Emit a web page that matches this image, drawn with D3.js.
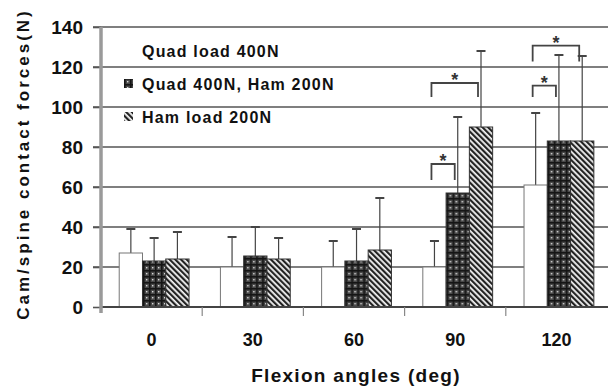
<!DOCTYPE html>
<html>
<head>
<meta charset="utf-8">
<script src="https://cdn.jsdelivr.net/npm/d3@7/dist/d3.min.js"></script>
<style>
  html, body { margin: 0; padding: 0; background: #fff; }
  svg { display: block; font-family: "Liberation Sans", Arial, sans-serif; font-weight: bold; }
</style>
</head>
<body>
<div id="chart"></div>
<script>
// flexion angles (deg)
const categories = ['0', '30', '60', '90', '120'];
const seriesNames = ['Quad load 400N', 'Quad 400N, Ham 200N', 'Ham load 200N'];

// mean cam/spine contact force (N) and SD per loading case
const quadMeans = [27, 20, 20, 20, 61];
const quadSD = [12, 15, 13, 13, 36];
const quadHamMeans = [23, 25.5, 23, 57, 83];
const quadHamSD = [11.5, 14.5, 16, 38, 43];
const hamMeans = [24, 24, 28.5, 90, 83];
const hamSD = [13.5, 10.5, 26, 38, 42.5];

const yTicks = [0, 20, 40, 60, 80, 100, 120, 140];

// significance brackets: category, series pair, bracket top and leg end (N)
const sigCats = ['90', '90', '120', '120'];
const sigFrom = [0, 0, 0, 0];
const sigTo = [1, 2, 1, 2];
const sigTop = [71.5, 112, 110.7, 130.7];
const sigBottom = [63.5, 105, 105, 122.7];

const W = 608, H = 388;
const mLeft = 101, mRight = 607, mTop = 27, mBottom = 307;

const svg = d3.select('#chart').append('svg')
  .attr('width', W).attr('height', H);

const defs = svg.append('defs');

// grid/check fill for combined load
const pGrid = defs.append('pattern')
  .attr('id', 'pGrid').attr('patternUnits', 'userSpaceOnUse')
  .attr('width', 6).attr('height', 6);
pGrid.append('rect').attr('width', 6).attr('height', 6).attr('fill', '#4a4a4a');
pGrid.append('rect').attr('width', 6).attr('height', 1.6).attr('fill', '#151515');
pGrid.append('rect').attr('width', 1.6).attr('height', 6).attr('fill', '#151515');
pGrid.append('rect').attr('x', 3).attr('y', 3).attr('width', 1.4).attr('height', 1.4).attr('fill', '#d8d8d8');

// diagonal stripes for ham load
const pDiag = defs.append('pattern')
  .attr('id', 'pDiag').attr('patternUnits', 'userSpaceOnUse')
  .attr('width', 4).attr('height', 4)
  .attr('patternTransform', 'rotate(-45)');
pDiag.append('rect').attr('width', 4).attr('height', 4).attr('fill', '#f4f4f4');
pDiag.append('rect').attr('width', 2.2).attr('height', 4).attr('fill', '#222');

const fills = ['#ffffff', 'url(#pGrid)', 'url(#pDiag)'];
const strokes = ['#777', '#333', '#333'];

const x0 = d3.scaleBand().domain(categories).range([mLeft, mRight]);
const x1 = d3.scaleBand().domain([0, 1, 2])
  .range([x0.bandwidth() * 0.18, x0.bandwidth() * 0.87]);
const y = d3.scaleLinear().domain([0, 140]).range([mBottom, mTop]);

// gridlines (extend left as tick marks)
svg.append('g').selectAll('line').data(yTicks.slice(1)).enter().append('line')
  .attr('x1', mLeft - 8).attr('x2', W)
  .attr('y1', d => y(d)).attr('y2', d => y(d))
  .attr('stroke', '#555').attr('stroke-width', 1.6);

// y axis tick labels
const yAxis = d3.axisLeft(y).tickValues(yTicks).tickSize(8).tickPadding(10);
const gy = svg.append('g').attr('transform', `translate(${mLeft},0)`).call(yAxis);
gy.select('.domain').remove();
gy.selectAll('.tick line').attr('stroke', '#555').attr('stroke-width', 1.6);
gy.selectAll('.tick text')
  .attr('font-size', 19).attr('font-family', '"Liberation Sans", Arial, sans-serif')
  .attr('font-weight', 'bold').attr('fill', '#111');

// bars
const rows = categories.map((c, i) => ({
  cat: c,
  vals: [
    { s: 0, m: quadMeans[i], sd: quadSD[i] },
    { s: 1, m: quadHamMeans[i], sd: quadHamSD[i] },
    { s: 2, m: hamMeans[i], sd: hamSD[i] }
  ]
}));

const groups = svg.append('g').selectAll('g').data(rows).enter().append('g')
  .attr('transform', d => `translate(${x0(d.cat)},0)`);

// error bars (drawn behind bars)
const err = groups.selectAll('g.err').data(d => d.vals).enter().append('g').attr('class', 'err');
err.append('line')
  .attr('x1', d => x1(d.s) + x1.bandwidth() / 2).attr('x2', d => x1(d.s) + x1.bandwidth() / 2)
  .attr('y1', d => y(d.m)).attr('y2', d => y(d.m + d.sd))
  .attr('stroke', '#444').attr('stroke-width', 1.2);
err.append('line')
  .attr('x1', d => x1(d.s) + x1.bandwidth() / 2 - 4.5).attr('x2', d => x1(d.s) + x1.bandwidth() / 2 + 4.5)
  .attr('y1', d => y(d.m + d.sd)).attr('y2', d => y(d.m + d.sd))
  .attr('stroke', '#444').attr('stroke-width', 2);

groups.selectAll('rect').data(d => d.vals).enter().append('rect')
  .attr('x', d => x1(d.s)).attr('width', x1.bandwidth())
  .attr('y', d => y(d.m)).attr('height', d => y(0) - y(d.m))
  .attr('fill', d => fills[d.s]).attr('stroke', d => strokes[d.s]).attr('stroke-width', 1);

// x axis
svg.append('line')
  .attr('x1', mLeft).attr('x2', W).attr('y1', mBottom).attr('y2', mBottom)
  .attr('stroke', '#444').attr('stroke-width', 2);
svg.append('line')
  .attr('x1', mLeft).attr('x2', mLeft).attr('y1', mTop).attr('y2', mBottom + 6)
  .attr('stroke', '#9a9a9a').attr('stroke-width', 3.5);
svg.append('g').selectAll('line').data(categories.slice(1)).enter().append('line')
  .attr('x1', d => x0(d)).attr('x2', d => x0(d))
  .attr('y1', mBottom).attr('y2', mBottom + 9)
  .attr('stroke', '#888').attr('stroke-width', 1.2);

svg.append('g').selectAll('text').data(categories).enter().append('text')
  .attr('x', d => x0(d) + x0.bandwidth() / 2).attr('y', 346)
  .attr('text-anchor', 'middle').attr('font-size', 18).attr('fill', '#111')
  .text(d => d);

// significance brackets
const sig = sigCats.map((c, i) => ({ cat: c, a: sigFrom[i], b: sigTo[i], t: sigTop[i], btm: sigBottom[i] }));
const sx = (d, s) => x0(d.cat) + x1(s) + x1.bandwidth() / 2 - 3;
const sg = svg.append('g').selectAll('g').data(sig).enter().append('g');
sg.append('path')
  .attr('d', d => `M${sx(d, d.a)},${y(d.btm)}V${y(d.t)}H${sx(d, d.b)}V${y(d.btm)}`)
  .attr('fill', 'none').attr('stroke', '#444').attr('stroke-width', 1.8);
sg.append('text')
  .attr('x', d => (sx(d, d.a) + sx(d, d.b)) / 2).attr('y', d => y(d.t) + 3)
  .attr('text-anchor', 'middle').attr('font-size', 18).attr('fill', '#333')
  .text('*');

// legend
const leg = svg.append('g').selectAll('g').data(seriesNames).enter().append('g')
  .attr('transform', (d, i) => `translate(124,${51 + i * 33})`);
leg.append('rect')
  .attr('x', 0).attr('y', -5).attr('width', 9).attr('height', 9)
  .attr('fill', (d, i) => fills[i]);
leg.append('text')
  .attr('x', 18).attr('y', 6)
  .attr('font-size', 16).attr('letter-spacing', 1.2).attr('fill', '#111')
  .text(d => d);

// axis titles
svg.append('text')
  .attr('x', 356).attr('y', 382).attr('text-anchor', 'middle')
  .attr('font-size', 19).attr('letter-spacing', 1.3).attr('fill', '#111')
  .text('Flexion angles (deg)');
svg.append('text')
  .attr('transform', 'translate(29,164) rotate(-90)').attr('text-anchor', 'middle')
  .attr('font-size', 17).attr('letter-spacing', 3).attr('fill', '#111')
  .text('Cam/spine contact forces(N)');
</script>
</body>
</html>
